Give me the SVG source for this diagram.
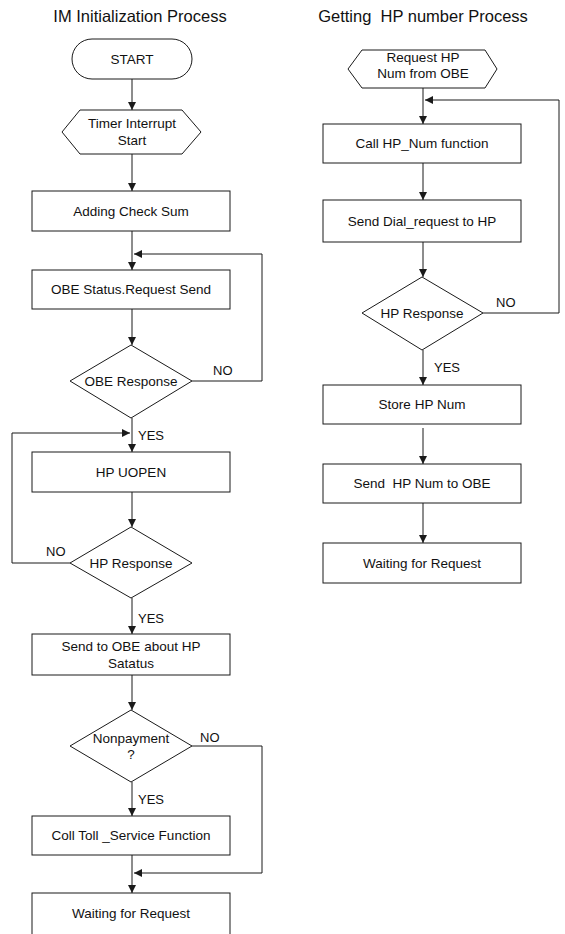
<svg xmlns="http://www.w3.org/2000/svg" width="565" height="934" viewBox="0 0 565 934">
<defs>
<marker id="ah" viewBox="0 0 10 10" refX="10" refY="5" markerWidth="10" markerHeight="8" markerUnits="userSpaceOnUse" orient="auto">
<path d="M0,0 L10,5 L0,10 z" fill="#1a1a1a"/>
</marker>
</defs>
<style>
.s{fill:#fff;stroke:#1a1a1a;stroke-width:1}
.t{font-family:"Liberation Sans",Arial,sans-serif;font-size:13.5px;fill:#111;text-anchor:middle}
.h{font-family:"Liberation Sans",Arial,sans-serif;font-size:16.5px;fill:#111;text-anchor:middle;white-space:pre}
.l{font-family:"Liberation Sans",Arial,sans-serif;font-size:13px;fill:#111}
.c{fill:none;stroke:#1a1a1a;stroke-width:1}
.a{marker-end:url(#ah)}
</style>
<rect width="565" height="934" fill="#fff"/>
<text class="h" x="140" y="22">IM Initialization Process</text>
<text class="h" x="423" y="22" xml:space="preserve">Getting  HP number Process</text>

<g id="connectors">
<path class="c a" d="M132,79 V110"/>
<path class="c a" d="M132,154 V191"/>
<path class="c a" d="M132,231 V270"/>
<path class="c a" d="M192,381 H262 V254 H134"/>
<path class="c a" d="M132,309 V345"/>
<path class="c a" d="M132,418 V452"/>
<path class="c a" d="M70,563 H12 V433 H130"/>
<path class="c a" d="M132,492 V527"/>
<path class="c a" d="M132,598 V634"/>
<path class="c a" d="M132,675 V710"/>
<path class="c a" d="M132,782 V816"/>
<path class="c a" d="M192,746 H262 V873 H134"/>
<path class="c a" d="M132,855 V893"/>
<path class="c a" d="M423,88 V124"/>
<path class="c a" d="M423,163 V200"/>
<path class="c a" d="M423,242 V277"/>
<path class="c a" d="M483,313 H559 V100 H425"/>
<path class="c a" d="M423,350 V385"/>
<path class="c a" d="M423,428 V464"/>
<path class="c a" d="M423,503 V543"/>
<text class="l" x="213" y="375">NO</text>
<text class="l" x="138" y="440">YES</text>
<text class="l" x="46" y="556">NO</text>
<text class="l" x="138" y="623">YES</text>
<text class="l" x="200" y="742">NO</text>
<text class="l" x="138" y="804">YES</text>
<text class="l" x="496" y="307">NO</text>
<text class="l" x="434" y="372">YES</text>
</g>

<g id="start">
<rect class="s" x="72" y="39" width="120" height="40" rx="20"/>
<text class="t" x="132" y="64">START</text>
</g>
<g id="timer">
<polygon class="s" points="62,132 80,110 182,110 201,132 182,154 80,154"/>
<text class="t" x="132" y="128">Timer Interrupt</text>
<text class="t" x="132" y="145">Start</text>
</g>
<g id="checksum">
<rect class="s" x="32" y="191" width="198" height="40"/>
<text class="t" x="131" y="216">Adding Check Sum</text>
</g>
<g id="obestatus">
<rect class="s" x="32" y="270" width="198" height="39"/>
<text class="t" x="131" y="294">OBE Status.Request Send</text>
</g>
<g id="oberesp">
<polygon class="s" points="131,345 192,381 131,418 70,381"/>
<text class="t" x="131" y="386">OBE Response</text>
</g>
<g id="uopen">
<rect class="s" x="32" y="452" width="198" height="40"/>
<text class="t" x="131" y="477">HP UOPEN</text>
</g>
<g id="hpresp">
<polygon class="s" points="131,527 192,563 131,598 70,563"/>
<text class="t" x="131" y="568">HP Response</text>
</g>
<g id="sendobe">
<rect class="s" x="32" y="634" width="198" height="41"/>
<text class="t" x="131" y="651">Send to OBE about HP</text>
<text class="t" x="131" y="668">Satatus</text>
</g>
<g id="nonpay">
<polygon class="s" points="131,710 192,746 131,782 70,746"/>
<text class="t" x="131" y="743">Nonpayment</text>
<text class="t" x="131" y="759">?</text>
</g>
<g id="colltoll">
<rect class="s" x="32" y="816" width="198" height="39"/>
<text class="t" x="131" y="840">Coll Toll _Service Function</text>
</g>
<g id="waitleft">
<rect class="s" x="32" y="893" width="198" height="46"/>
<text class="t" x="131" y="918">Waiting for Request</text>
</g>

<g id="reqhp">
<polygon class="s" points="348,69 362,50 485,50 497,69 485,88 362,88"/>
<text class="t" x="423" y="62">Request HP</text>
<text class="t" x="423" y="78">Num from OBE</text>
</g>
<g id="callhp">
<rect class="s" x="323" y="124" width="198" height="39"/>
<text class="t" x="422" y="148">Call HP_Num function</text>
</g>
<g id="senddial">
<rect class="s" x="323" y="200" width="198" height="42"/>
<text class="t" x="422" y="226">Send Dial_request to HP</text>
</g>
<g id="hpresp2">
<polygon class="s" points="422,277 483,313 422,350 362,313"/>
<text class="t" x="422" y="318">HP Response</text>
</g>
<g id="store">
<rect class="s" x="323" y="385" width="198" height="39"/>
<text class="t" x="422" y="409">Store HP Num</text>
</g>
<g id="sendnum">
<rect class="s" x="323" y="464" width="198" height="39"/>
<text class="t" x="422" y="488" xml:space="preserve">Send  HP Num to OBE</text>
</g>
<g id="waitright">
<rect class="s" x="323" y="543" width="198" height="40"/>
<text class="t" x="422" y="568">Waiting for Request</text>
</g>
</svg>
